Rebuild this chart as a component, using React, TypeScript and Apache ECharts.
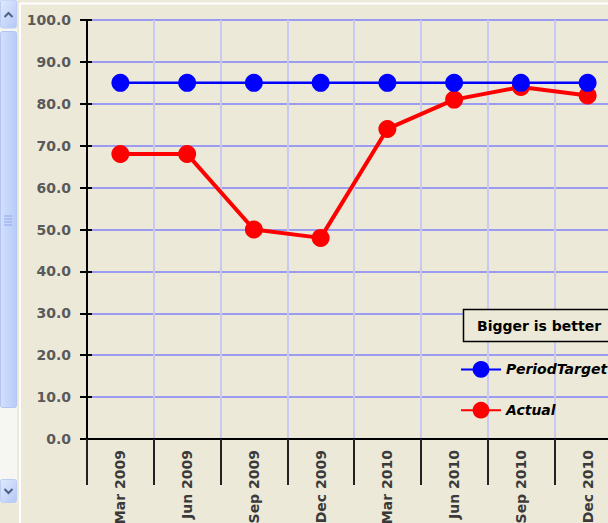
import React, { useEffect, useRef } from "react";
import * as echarts from "echarts";

const categories = ["Mar 2009", "Jun 2009", "Sep 2009", "Dec 2009", "Mar 2010", "Jun 2010", "Sep 2010", "Dec 2010"];
const periodTarget = [85, 85, 85, 85, 85, 85, 85, 85];
const actual = [68, 68, 50, 48, 74, 81, 84, 82];
const yMin = 0;
const yMax = 100;
const yInterval = 10;
const noteText = "Bigger is better";

const FONT = "'DejaVu Sans', Verdana, sans-serif";

export default function App() {
  const ref = useRef<HTMLDivElement>(null);
  useEffect(() => {
    if (!ref.current) return;
    const chart = echarts.init(ref.current, undefined, { renderer: "svg" });
    const thumbGrad = new echarts.graphic.LinearGradient(0, 0, 1, 0, [
      { offset: 0, color: "#d3e0fd" },
      { offset: 1, color: "#b7cbf7" },
    ]);
    const btnGrad = new echarts.graphic.LinearGradient(0, 0, 1, 1, [
      { offset: 0, color: "#e1eafe" },
      { offset: 1, color: "#b4c8f6" },
    ]);
    chart.setOption({
      animation: false,
      backgroundColor: "#ECE9D8",
      textStyle: { fontFamily: FONT },
      grid: { left: 87, top: 20, bottom: 84, right: 19, containLabel: false, outerBoundsMode: "none" },
      xAxis: {
        type: "category",
        data: categories,
        boundaryGap: true,
        axisLine: { show: true, lineStyle: { color: "#000", width: 2 } },
        axisTick: { show: true, length: 46, lineStyle: { color: "#222", width: 2 } },
        axisLabel: {
          rotate: 90,
          margin: 11,
          color: "#3a3a3a",
          fontWeight: "bold",
          fontSize: 14,
          fontFamily: FONT,
        },
        splitLine: { show: true, lineStyle: { color: "#c9c9f4", width: 2 } },
      },
      yAxis: [
        {
          type: "value",
          min: yMin,
          max: yMax,
          interval: yInterval,
          axisLine: { show: true, lineStyle: { color: "#000", width: 2 } },
          axisTick: { show: true, length: 7, lineStyle: { color: "#000", width: 2 } },
          axisLabel: {
            margin: 16,
            color: "#5a5a5a",
            fontWeight: "bold",
            fontSize: 14,
            fontFamily: FONT,
            formatter: (v: number) => v.toFixed(1),
          },
          splitLine: { show: true, lineStyle: { color: "#9b9bf2", width: 2 } },
        },
        {
          type: "value",
          position: "left",
          min: yMin,
          max: yMax,
          interval: yInterval,
          axisLine: { show: false },
          axisTick: { show: true, inside: true, length: 5, lineStyle: { color: "#000", width: 2 } },
          axisLabel: { show: false },
          splitLine: { show: false },
        },
      ],
      legend: {
        orient: "vertical",
        left: 455,
        top: 356,
        itemWidth: 40,
        itemHeight: 21,
        itemGap: 24,
        data: ["PeriodTarget", "Actual"],
        textStyle: {
          color: "#000",
          fontWeight: "bold",
          fontStyle: "italic",
          fontSize: 14,
          fontFamily: FONT,
        },
      },
      series: [
        {
          name: "Actual",
          type: "line",
          data: actual,
          symbol: "circle",
          symbolSize: 18,
          itemStyle: { color: "#ff0000" },
          lineStyle: { color: "#ff0000", width: 4 },
        },
        {
          name: "PeriodTarget",
          type: "line",
          data: periodTarget,
          symbol: "circle",
          symbolSize: 18,
          itemStyle: { color: "#0000ff" },
          lineStyle: { color: "#0000ff", width: 2.5 },
        },
      ],
      graphic: [
        { type: "line", shape: { x1: 20, y1: 3.5, x2: 700, y2: 3.5 }, style: { stroke: "#ffffff", lineWidth: 2 }, silent: true },
        { type: "line", shape: { x1: 20, y1: 3.5, x2: 20, y2: 523 }, style: { stroke: "#ffffff", lineWidth: 2 }, silent: true },
        { type: "rect", shape: { x: 0, y: 0, width: 17, height: 503 }, style: { fill: "#f6f6f2" }, silent: true },
        { type: "rect", shape: { x: 0.5, y: 0, width: 16, height: 28, r: 2 }, style: { fill: btnGrad, stroke: "#bccdf3", lineWidth: 1 }, silent: true },
        { type: "polyline", shape: { points: [[4.5, 17], [8.5, 13], [12.5, 17]] }, style: { stroke: "#4d6185", lineWidth: 2, fill: null }, silent: true },
        { type: "rect", shape: { x: 0.5, y: 31.5, width: 16, height: 376, r: 2 }, style: { fill: thumbGrad, stroke: "#b3c6f2", lineWidth: 1 }, silent: true },
        { type: "line", shape: { x1: 4, y1: 216, x2: 12, y2: 216 }, style: { stroke: "#8ea6e6", lineWidth: 1 }, silent: true },
        { type: "line", shape: { x1: 4, y1: 219, x2: 12, y2: 219 }, style: { stroke: "#8ea6e6", lineWidth: 1 }, silent: true },
        { type: "line", shape: { x1: 4, y1: 222, x2: 12, y2: 222 }, style: { stroke: "#8ea6e6", lineWidth: 1 }, silent: true },
        { type: "line", shape: { x1: 4, y1: 225, x2: 12, y2: 225 }, style: { stroke: "#8ea6e6", lineWidth: 1 }, silent: true },
        { type: "rect", shape: { x: 0.5, y: 479.5, width: 16, height: 23, r: 2 }, style: { fill: btnGrad, stroke: "#bccdf3", lineWidth: 1 }, silent: true },
        { type: "polyline", shape: { points: [[4.5, 489], [8.5, 493], [12.5, 489]] }, style: { stroke: "#4d6185", lineWidth: 2, fill: null }, silent: true },
        { type: "rect", shape: { x: 463.5, y: 309.5, width: 200, height: 32 }, style: { fill: "#ECE9D8", stroke: "#000", lineWidth: 1.5 }, z: 10, silent: true },
        {
          type: "text",
          x: 477,
          y: 325.5,
          z: 11,
          style: {
            text: noteText,
            fill: "#000",
            font: `bold 14px ${FONT}`,
            textVerticalAlign: "middle",
            verticalAlign: "middle",
          },
          silent: true,
        },
      ],
    });
    return () => chart.dispose();
  }, []);
  return (
    <div style={{ position: "fixed", left: 0, top: 0, width: 608, height: 523, overflow: "hidden" }}>
      <div ref={ref} style={{ width: 640, height: 523 }} />
    </div>
  );
}
